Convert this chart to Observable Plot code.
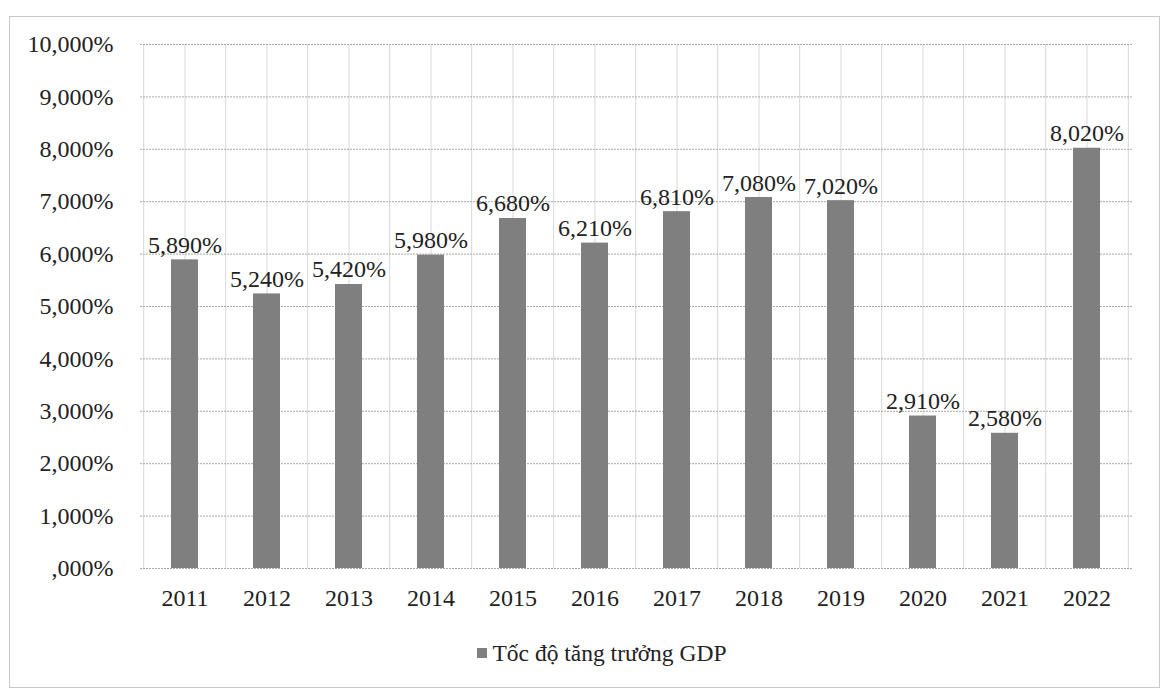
<!DOCTYPE html>
<html>
<head>
<meta charset="utf-8">
<script src="https://cdn.jsdelivr.net/npm/d3@7"></script>
<script src="https://cdn.jsdelivr.net/npm/@observablehq/plot@0.6"></script>
<style>
  html, body { margin: 0; padding: 0; background: #fff; }
  #wrap { position: relative; width: 1168px; height: 697px; overflow: hidden; }
  #frame { position: absolute; left: 9px; top: 16px; width: 1151px; height: 672px; border: 1px solid #c8c8c8; box-sizing: border-box; }
  #chart { position: absolute; left: 0; top: 0; }
  #chart svg, #chart svg text { font-family: "Liberation Serif", "Times New Roman", serif !important; }
  #legend { position: absolute; left: 0; width: 1168px; top: 640px; text-align: center; padding-left: 36px; box-sizing: border-box;
            font-family: "Liberation Serif", "Times New Roman", serif; font-size: 23.5px; color: #222; }
  #legend .sw { display: inline-block; width: 10px; height: 10px; background: #7f7f7f; margin-right: 5px; vertical-align: 3px; }
</style>
</head>
<body>
<div id="wrap">
  <div id="frame"></div>
  <div id="chart"></div>
  <div id="legend"><span class="sw"></span>Tốc độ tăng trưởng GDP</div>
</div>
<script>
const years = ["2011","2012","2013","2014","2015","2016","2017","2018","2019","2020","2021","2022"];
const gdpGrowth = [5.89, 5.24, 5.42, 5.98, 6.68, 6.21, 6.81, 7.08, 7.02, 2.91, 2.58, 8.02];
const valueLabels = ["5,890%","5,240%","5,420%","5,980%","6,680%","6,210%","6,810%","7,080%","7,020%","2,910%","2,580%","8,020%"];
const yTicks = [0,1,2,3,4,5,6,7,8,9,10];
const yTickLabels = [",000%","1,000%","2,000%","3,000%","4,000%","5,000%","6,000%","7,000%","8,000%","9,000%","10,000%"];
const seriesName = "Tốc độ tăng trưởng GDP";

const data = years.map((y, i) => ({year: y, value: gdpGrowth[i], label: valueLabels[i]}));

const W = 1168, H = 625;
const mL = 140, mR = 36, mT = 44, mB = 57;
const step = (W - mL - mR) / years.length;
const serif = "Liberation Serif, Times New Roman, serif";

const chart = Plot.plot({
  width: W,
  height: H,
  marginLeft: mL,
  marginRight: mR,
  marginTop: mT,
  marginBottom: mB,
  style: {fontFamily: serif, fontSize: "24px", color: "#222", background: "transparent"},
  x: {domain: years, paddingInner: 0.67, paddingOuter: 0.335, label: null},
  y: {domain: [0, 10], label: null},
  marks: [
    Plot.gridX(years, {stroke: "#d8d8d8", strokeOpacity: 1}),
    Plot.ruleX(years, {x: d => d, dx: -step / 2, stroke: "#d8d8d8", strokeOpacity: 1}),
    Plot.ruleX(years.slice(-1), {x: d => d, dx: step / 2, stroke: "#d8d8d8", strokeOpacity: 1}),
    Plot.gridY(yTicks, {stroke: "#a8a8a8", strokeOpacity: 1, strokeDasharray: "2,1"}),
    Plot.barY(data, {x: "year", y: "value", fill: "#7f7f7f"}),
    Plot.text(data, {x: "year", y: "value", text: "label", lineAnchor: "bottom", dy: -7, fill: "#222", fontSize: 24, fontFamily: serif}),
    Plot.axisY(yTicks, {tickFormat: (d) => yTickLabels[yTicks.indexOf(d)], tickSize: 0, tickPadding: 27, fontSize: 24, fill: "#222", fontFamily: serif, label: null}),
    Plot.axisX(years, {tickSize: 0, tickPadding: 20, fontSize: 24, fill: "#222", fontFamily: serif, label: null})
  ]
});
document.getElementById("chart").appendChild(chart);
</script>
</body>
</html>
